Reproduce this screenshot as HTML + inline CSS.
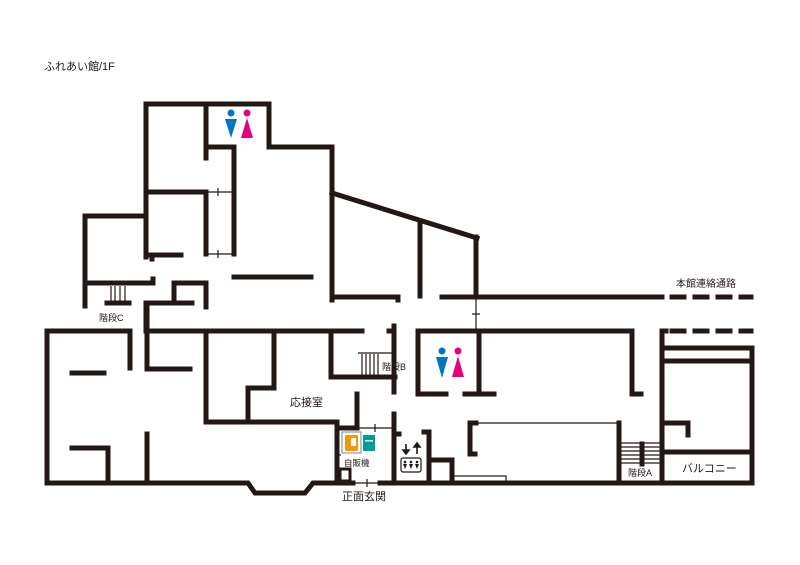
<!DOCTYPE html>
<html><head><meta charset="utf-8"><style>
body{margin:0;background:#fff}
svg{display:block}
text{font-family:"Liberation Sans","Noto Sans CJK JP",sans-serif;fill:#231815}
</style></head><body>
<svg width="800" height="565" viewBox="0 0 800 565" xmlns="http://www.w3.org/2000/svg">
<g stroke="#231815" stroke-width="5" fill="none" stroke-linecap="square">
<polyline points="146,257 146,104 269,104 269,147 332,147 332,300"/>
<line x1="206" y1="104" x2="206" y2="158"/>
<polyline points="208,147 234,147 234,254"/>
<line x1="146" y1="192" x2="204" y2="192"/>
<line x1="206" y1="192" x2="206" y2="254"/>
<line x1="146" y1="255" x2="181" y2="255"/>
<line x1="152" y1="257" x2="152" y2="259"/>
<polyline points="85,306 85,216 146,216"/>
<polyline points="85,283 153,283 153,279"/>
<line x1="107" y1="303" x2="129" y2="303"/>
<polyline points="174,299 174,283 206,283 206,307"/>
<polyline points="146,331 146,303 192,303"/>
<line x1="234" y1="277" x2="311" y2="277"/>
<line x1="332" y1="193" x2="477" y2="238"/>
<polyline points="332,297 398,297 398,300"/>
<line x1="420" y1="221" x2="420" y2="296"/>
<line x1="476" y1="237" x2="476" y2="296"/>
<line x1="442" y1="297" x2="662" y2="297"/>
<line x1="672" y1="297" x2="684" y2="297"/>
<line x1="695" y1="297" x2="707" y2="297"/>
<line x1="718" y1="297" x2="730" y2="297"/>
<line x1="741" y1="297" x2="751" y2="297"/>
<line x1="672" y1="331" x2="684" y2="331"/>
<line x1="695" y1="331" x2="707" y2="331"/>
<line x1="718" y1="331" x2="730" y2="331"/>
<line x1="741" y1="331" x2="751" y2="331"/>
<polyline points="446,394 418,394 418,331 632,331 632,394 641,394"/>
<line x1="479" y1="331" x2="479" y2="394"/>
<line x1="465" y1="394" x2="494" y2="394"/>
<polyline points="666,331 662,331 662,482"/>
<polyline points="662,348 752,348 752,482"/>
<line x1="662" y1="361" x2="752" y2="361"/>
<line x1="662" y1="452" x2="752" y2="452"/>
<polyline points="662,423 688,423 688,435"/>
<polyline points="476,423 470,423 470,454 475,454"/>
<line x1="619" y1="423" x2="619" y2="482"/>
<line x1="642" y1="444" x2="642" y2="464"/>
<polyline points="424,432 429,432 429,482"/>
<polyline points="429,460 452,460 452,482"/>
<polyline points="130,368 130,331 47,331 47,483 248,483 255,493 305,493 313,483 353,483"/>
<line x1="380" y1="483" x2="752" y2="483"/>
<line x1="72" y1="373" x2="104" y2="373"/>
<polyline points="72,448 108,448 108,483"/>
<line x1="147" y1="434" x2="147" y2="483"/>
<polyline points="147,303 147,369 190,369"/>
<line x1="147" y1="331" x2="362" y2="331"/>
<polyline points="206,331 206,422 337,422 337,483"/>
<polyline points="274,331 274,388 248,388 248,422"/>
<polyline points="331,331 331,377 395,377"/>
<line x1="394" y1="326" x2="394" y2="392"/>
<line x1="394" y1="414" x2="394" y2="483"/>
<line x1="389" y1="331" x2="394" y2="331"/>
<line x1="394" y1="434" x2="399" y2="434"/>
<line x1="357" y1="394" x2="357" y2="428"/>
<line x1="337" y1="428" x2="357" y2="428"/>
<rect x="340" y="469" width="10" height="12" stroke-width="3"/>
</g>
<g stroke="#231815" stroke-width="1.2" fill="none">
<line x1="206" y1="254" x2="232" y2="254"/>
<line x1="218" y1="188" x2="218" y2="196"/><line x1="218" y1="250" x2="218" y2="258"/>
<line x1="206" y1="192" x2="232" y2="192"/>
<line x1="111" y1="286" x2="111" y2="301"/><line x1="115" y1="286" x2="115" y2="301"/><line x1="120" y1="286" x2="120" y2="301"/><line x1="125" y1="286" x2="125" y2="301"/>
<line x1="476" y1="298" x2="476" y2="330"/><line x1="472" y1="314" x2="480" y2="314"/>
<line x1="358" y1="353" x2="394" y2="353"/>
<line x1="362" y1="354" x2="362" y2="376"/><line x1="366" y1="354" x2="366" y2="376"/><line x1="370" y1="354" x2="370" y2="376"/><line x1="374" y1="354" x2="374" y2="376"/><line x1="378" y1="354" x2="378" y2="376"/>
<line x1="357" y1="428" x2="394" y2="428"/><line x1="375" y1="424" x2="375" y2="432"/>
<line x1="337" y1="455" x2="341" y2="455"/>
<line x1="353" y1="483" x2="380" y2="483"/><line x1="367" y1="479" x2="367" y2="487"/>
<line x1="476" y1="423" x2="619" y2="423"/>
<rect x="452" y="476" width="54" height="6"/>
<line x1="621" y1="443" x2="662" y2="443"/><line x1="621" y1="447" x2="662" y2="447"/><line x1="621" y1="451" x2="662" y2="451"/><line x1="621" y1="455" x2="662" y2="455"/><line x1="621" y1="459" x2="662" y2="459"/><line x1="621" y1="463" x2="662" y2="463"/>
<rect x="401" y="458" width="20" height="14" rx="2"/>
<rect x="342" y="432" width="19" height="21" stroke="#999"/>
</g>
<g stroke="#231815" stroke-width="1.6" fill="#231815">
<line x1="406" y1="444" x2="406" y2="452"/><polygon points="403,450 409,450 406,454" />
<line x1="417" y1="446" x2="417" y2="454"/><polygon points="414,447 420,447 417,443"/>
</g>
<g fill="#231815">
<circle cx="405" cy="462" r="1.3"/><polygon points="403,464 407,464 405,469"/>
<circle cx="411" cy="462" r="1.3"/><polygon points="409,464 413,464 411,469"/>
<circle cx="417" cy="462" r="1.3"/><polygon points="415,464 419,464 417,469"/>
</g>
<rect x="345" y="435" width="13" height="16" rx="2" fill="#f39800"/>
<rect x="351" y="438" width="5" height="8" fill="#fff"/>
<rect x="363" y="435" width="12" height="16" fill="#009e96"/>
<rect x="365" y="440" width="8" height="1.5" fill="#fff"/>
<g>
<circle cx="231" cy="113" r="3.5" fill="#0075c2"/><polygon points="225,119 237,119 231,138" fill="#0075c2"/>
<circle cx="247" cy="113" r="3.5" fill="#e4007f"/><polygon points="247,118 241,138 253,138" fill="#e4007f"/>
<circle cx="442" cy="351" r="3.5" fill="#0075c2"/><polygon points="436,357 448,357 442,378" fill="#0075c2"/>
<circle cx="458" cy="351" r="3.5" fill="#e4007f"/><polygon points="458,356 452,377 464,377" fill="#e4007f"/>
</g>
<text x="44" y="70" font-size="11">ふれあい館/1F</text>
<text x="99" y="321" font-size="9">階段C</text>
<text x="382" y="370" font-size="9">階段B</text>
<text x="290" y="406" font-size="11">応接室</text>
<text x="344" y="466" font-size="8.5">自販機</text>
<text x="342" y="500" font-size="11">正面玄関</text>
<text x="676" y="287" font-size="10">本館連絡通路</text>
<text x="628" y="476" font-size="9">階段A</text>
<text x="682" y="472" font-size="11">バルコニー</text>
</svg>
</body></html>
